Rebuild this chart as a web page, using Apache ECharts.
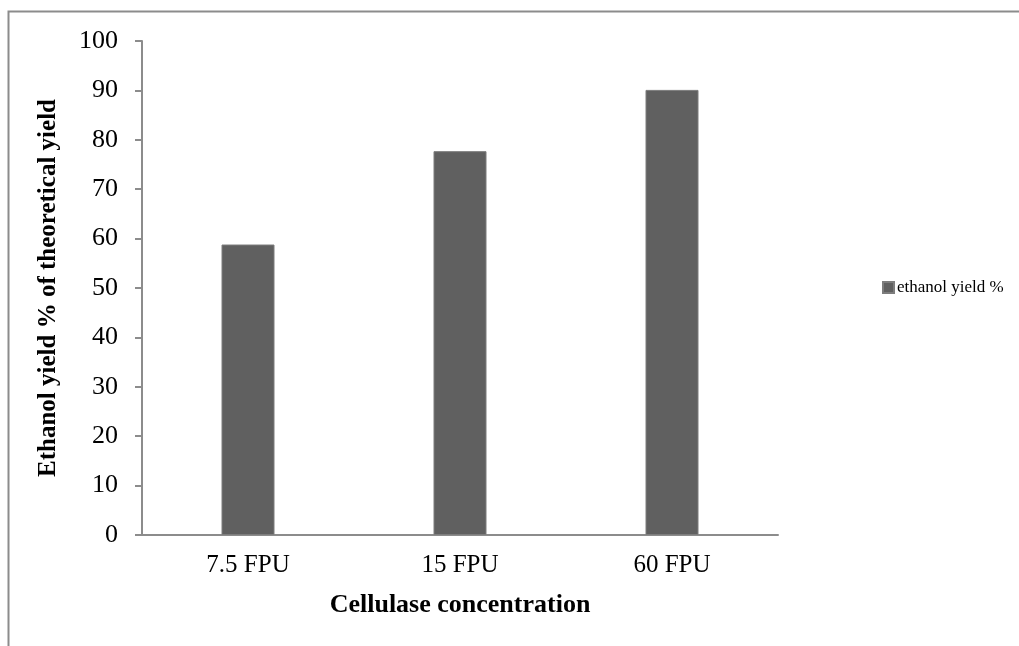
<!DOCTYPE html>
<html>
<head>
<meta charset="utf-8">
<script src="https://cdn.jsdelivr.net/npm/echarts@6/dist/echarts.min.js"></script>
<style>
  html, body { margin: 0; padding: 0; background: #fff; }
  #main { width: 1019px; height: 646px; }
</style>
</head>
<body>
<div id="main"></div>
<script>
  // data
  var categories = ['7.5 FPU', '15 FPU', '60 FPU'];
  var yieldValues = [58.8, 77.7, 90.1];
  var seriesName = 'ethanol yield %';

  var serif = '"Liberation Serif", "Times New Roman", serif';

  var chart = echarts.init(document.getElementById('main'));
  chart.setOption({
    animation: false,
    textStyle: { fontFamily: serif, color: '#000' },
    graphic: [{
      type: 'rect',
      shape: { x: 8.5, y: 11.5, width: 1100, height: 700 },
      style: { fill: 'none', stroke: '#8c8c8c', lineWidth: 2 },
      silent: true
    }],
    legend: {
      left: 877,
      top: 274,
      orient: 'vertical',
      itemWidth: 11,
      itemHeight: 11,
      itemGap: 6,
      icon: 'rect',
      textStyle: { fontFamily: serif, fontSize: 17, color: '#000', padding: [0, 0, 0, -2] },
      data: [seriesName]
    },
    grid: { left: 142, right: 241, top: 41, bottom: 111, containLabel: false },
    xAxis: {
      type: 'category',
      data: categories,
      name: 'Cellulase concentration',
      nameLocation: 'middle',
      nameGap: 57,
      nameTextStyle: { fontFamily: serif, fontSize: 26, fontWeight: 'bold', color: '#000' },
      axisLine: { lineStyle: { color: '#8c8c8c', width: 2 } },
      axisTick: { show: false },
      axisLabel: { fontFamily: serif, fontSize: 25, color: '#000', margin: 18 }
    },
    yAxis: {
      type: 'value',
      min: 0,
      max: 100,
      interval: 10,
      name: 'Ethanol yield % of theoretical yield',
      nameLocation: 'middle',
      nameGap: 81,
      nameTextStyle: { fontFamily: serif, fontSize: 25, fontWeight: 'bold', color: '#000' },
      axisLine: { show: true, lineStyle: { color: '#8c8c8c', width: 2 } },
      axisTick: { show: true, length: 7, lineStyle: { color: '#8c8c8c', width: 2 } },
      splitLine: { show: false },
      axisLabel: { fontFamily: serif, fontSize: 26, color: '#000', margin: 24 }
    },
    series: [{
      name: seriesName,
      type: 'bar',
      data: yieldValues,
      barWidth: 53,
      itemStyle: { color: '#606060', borderColor: '#7d7d7d', borderWidth: 1 }
    }]
  });
</script>
</body>
</html>
